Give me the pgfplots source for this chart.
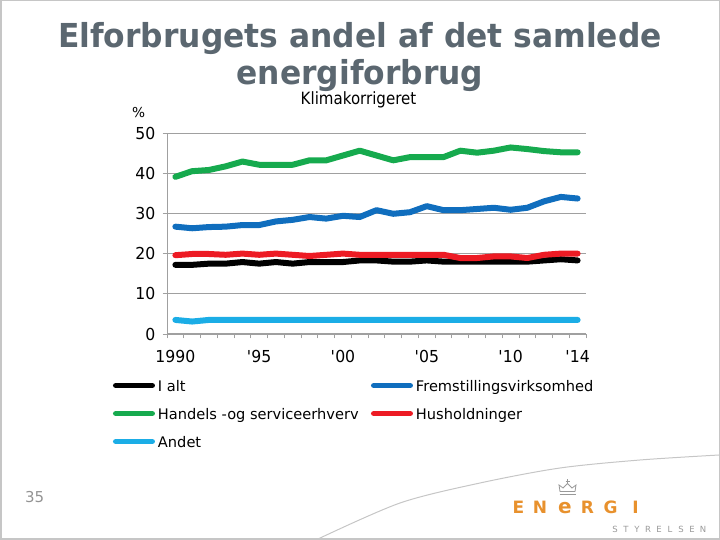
\documentclass[border=0pt]{standalone}
\usepackage{fontspec}
\setmainfont{DejaVu Sans}
\usepackage{pgfplots}
\pgfplotsset{compat=1.18}
\usepackage{pgfplotstable}
\newfontfamily\titlefont[FakeStretch=0.95]{DejaVu Sans}
\newfontfamily\tickfnt[FakeStretch=0.95]{DejaVu Sans}
\newfontfamily\subfnt[FakeStretch=0.89]{DejaVu Sans}
\definecolor{titlegray}{RGB}{91,103,112}
\definecolor{cblue}{RGB}{16,110,190}
\definecolor{cgreen}{RGB}{22,170,78}
\definecolor{cred}{RGB}{237,27,36}
\definecolor{clblue}{RGB}{27,173,230}
\definecolor{corange}{RGB}{232,145,45}
\definecolor{gridgray}{RGB}{160,160,160}

\pgfplotstableread{
year ialt frem handel hus andet
1990 17.2 26.7 39.1 19.6 3.5
1991 17.2 26.3 40.5 19.9 3.1
1992 17.5 26.6 40.8 19.9 3.5
1993 17.5 26.7 41.7 19.7 3.5
1994 17.9 27.1 42.9 20.0 3.5
1995 17.5 27.1 42.1 19.7 3.5
1996 17.9 28.0 42.1 20.0 3.5
1997 17.5 28.4 42.1 19.7 3.5
1998 17.9 29.1 43.2 19.4 3.5
1999 17.9 28.7 43.2 19.7 3.5
2000 17.9 29.4 44.4 20.0 3.5
2001 18.3 29.1 45.6 19.7 3.5
2002 18.3 30.8 44.4 19.7 3.5
2003 18.0 29.9 43.2 19.7 3.5
2004 18.0 30.3 44.0 19.7 3.5
2005 18.3 31.8 44.0 19.7 3.5
2006 18.0 30.8 44.0 19.7 3.5
2007 18.0 30.8 45.6 18.9 3.5
2008 18.0 31.1 45.1 18.9 3.5
2009 18.0 31.4 45.6 19.3 3.5
2010 18.0 30.9 46.4 19.3 3.5
2011 18.0 31.4 46.0 18.9 3.5
2012 18.3 33.0 45.5 19.7 3.5
2013 18.6 34.1 45.2 20.0 3.5
2014 18.3 33.7 45.2 20.0 3.5
}\data

\begin{document}
\begin{tikzpicture}[x=1pt,y=1pt]
\path[use as bounding box] (0,0) rectangle (720,540);
\draw[gray!45, line width=1.5pt] (0.75,0.75) rectangle (719.25,539.25);
% decorative arc
\draw[gray!45, line width=1pt] plot[smooth] coordinates {(318,1) (400,37) (480,57) (560,72) (640,80) (719,85)};

% titles
\node[anchor=base, text=titlegray, inner sep=0] at (360,492.7) {\titlefont\bfseries\fontsize{33}{38}\selectfont Elforbrugets andel af det samlede};
\node[anchor=base, text=titlegray, inner sep=0] at (360,455) {\titlefont\bfseries\fontsize{33}{38}\selectfont energiforbrug};
\node[anchor=base, inner sep=0] at (358.5,435) {\subfnt\fontsize{16.9}{19}\selectfont Klimakorrigeret};
\node[anchor=base west, inner sep=0] at (132,422) {\fontsize{13.7}{15}\selectfont \%};
\node[anchor=base west, inner sep=0, text=gray!85] at (25,37.3) {\fontsize{15}{17}\selectfont 35};

\begin{axis}[
  at={(167pt,206pt)}, anchor=south west,
  scale only axis, width=419pt, height=201pt,
  xmin=1989.5, xmax=2014.5, ymin=0, ymax=50,
  axis x line*=bottom, axis y line*=left,
  axis line style={draw=gridgray, line width=1pt, -},
  ytick={0,10,...,50},
  ymajorgrids, grid style={draw=gridgray, line width=0.9pt},
  tick align=outside, major tick length=4.5pt,
  tick style={draw=gridgray, line width=0.9pt},
  xtick={1989.5,1990.5,...,2014.5}, xticklabels={},
  extra x ticks={1990,1995,2000,2005,2010,2014},
  extra x tick labels={1990,\textquotesingle95,\textquotesingle00,\textquotesingle05,\textquotesingle10,\textquotesingle14},
  extra x tick style={major tick length=0pt, xmajorgrids=false, tick style={draw=none}},
  /pgf/number format/assume math mode=true,
  ticklabel style={font=\tickfnt\fontsize{16.5}{18}\selectfont},
  yticklabel style={inner sep=0pt, xshift=-7pt},
  xticklabel style={inner sep=0pt, yshift=-16pt},
  legend columns=2,
  legend cell align=left,
  legend style={at={(-0.1289,-0.2139)}, anchor=north west, draw=none, fill=none,
    inner sep=0pt, outer sep=0pt, font=\fontsize{14.6}{16}\selectfont,
    row sep=11pt,
    nodes={inner sep=2pt, text height=12.5pt, text depth=0.5pt},
    /tikz/every odd column/.append style={column sep=1pt},
    /tikz/every even column/.append style={column sep=8pt}},
  legend image code/.code={\draw[#1, line width=5.5pt, line cap=round] (2.75pt,0pt) -- (39.25pt,0pt);},
  every axis plot/.append style={line width=6pt, line cap=round, line join=round, no markers},
  clip=false,
]
\addplot[black] table[x=year, y=ialt] {\data};
\addlegendentry{\makebox[203pt][l]{I alt}}
\addplot[cblue] table[x=year, y=frem] {\data};
\addlegendentry{Fremstillingsvirksomhed}
\addplot[cgreen] table[x=year, y=handel] {\data};
\addlegendentry{\makebox[203pt][l]{Handels -og serviceerhverv}}
\addplot[cred] table[x=year, y=hus] {\data};
\addlegendentry{Husholdninger}
\addplot[clblue] table[x=year, y=andet] {\data};
\addlegendentry{\makebox[203pt][l]{Andet}}
\end{axis}

% logo
\foreach \c/\x in {E/518.5, N/540, R/587.5, G/610.5, I/635.5}{
  \node[anchor=base, inner sep=0, text=corange] at (\x,26) {\bfseries\fontsize{17}{19}\selectfont \c};
}
\node[anchor=base, inner sep=0, text=corange] at (565,26) {\bfseries\fontsize{20}{22}\selectfont e};
\foreach \c [count=\i from 0] in {S,T,Y,R,E,L,S,E,N}{
  \node[anchor=base, inner sep=0, text=gray!80] at (615+\i*11,7) {\fontsize{8.5}{10}\selectfont \c};
}
\draw[gray!80, line width=0.8pt] (559.5,46) -- (575.5,46);
\draw[gray!80, line width=0.8pt] (560,48.5) -- (559,55) -- (563,52) -- (567.5,56.5) -- (572,52) -- (576,55) -- (575,48.5) -- cycle;
\draw[gray!80, line width=0.8pt] (567.5,56.5) -- (567.5,61) (565.5,59) -- (569.5,59);
\end{tikzpicture}
\end{document}
